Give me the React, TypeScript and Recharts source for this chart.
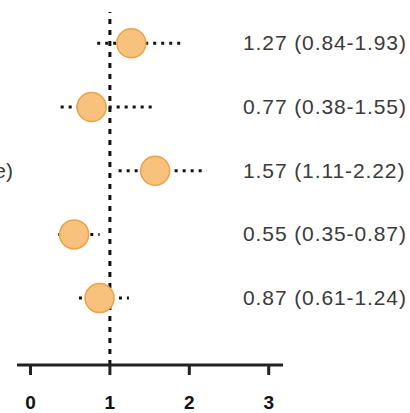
import { ScatterChart, Scatter, XAxis, YAxis, ReferenceLine } from 'recharts';

const rows = [1, 2, 3, 4, 5];
const estimates = [1.27, 0.77, 1.57, 0.55, 0.87];
const lower = [0.84, 0.38, 1.11, 0.35, 0.61];
const upper = [1.93, 1.55, 2.22, 0.87, 1.24];
const rowNames = ['', '', 'e)', '', ''];
const xTicks = [0, 1, 2, 3];

const FONT = '"Liberation Sans", Arial, Helvetica, sans-serif';

const points = rows.map((row, i) => ({
  row,
  est: estimates[i],
  lo: lower[i],
  hi: upper[i],
  text: `${estimates[i].toFixed(2)} (${lower[i].toFixed(2)}-${upper[i].toFixed(2)})`,
}));

function Dot(props: any) {
  const { cx, cy } = props;
  return <circle cx={cx} cy={cy} r={14.5} fill="#F8C27C" stroke="#EBA24A" strokeWidth={1.5} />;
}

function RightTick(props: any) {
  const { y, payload } = props;
  const p = points.find((d) => d.row === payload.value);
  return (
    <text x={243} y={y} dy={7} textAnchor="start" fontSize={21} letterSpacing={0.9} fontFamily={FONT} fill="#3a3a3a">
      {p ? p.text : ''}
    </text>
  );
}

function LeftTick(props: any) {
  const { y, payload } = props;
  const idx = rows.indexOf(payload.value);
  return (
    <text x={13} y={y} dy={7} textAnchor="end" fontSize={21} fontFamily={FONT} fill="#3a3a3a">
      {idx >= 0 ? rowNames[idx] : ''}
    </text>
  );
}

export default function App() {
  return (
    <div style={{ position: 'absolute', left: 0, top: 0, background: '#fff' }}>
      <ScatterChart width={410} height={413} margin={{ top: 12, right: 0, bottom: 8, left: 0 }}>
        <XAxis
          type="number"
          dataKey="est"
          domain={[-0.17, 3.18]}
          ticks={xTicks}
          allowDataOverflow
          height={40}
          tickSize={10}
          tickMargin={21}
          axisLine={{ stroke: '#222', strokeWidth: 3 }}
          tickLine={{ stroke: '#222', strokeWidth: 3 }}
          tick={{ fill: '#111', fontSize: 19, fontWeight: 'bold', fontFamily: FONT }}
        />
        <YAxis
          yAxisId="l"
          type="number"
          dataKey="row"
          domain={[0.51, 6.05]}
          ticks={rows}
          reversed
          allowDataOverflow
          width={17}
          axisLine={false}
          tickLine={false}
          tick={<LeftTick />}
        />
        <YAxis
          yAxisId="r"
          orientation="right"
          type="number"
          dataKey="row"
          domain={[0.51, 6.05]}
          ticks={rows}
          reversed
          allowDataOverflow
          width={127}
          axisLine={false}
          tickLine={false}
          tick={<RightTick />}
        />
        <ReferenceLine yAxisId="l" x={1} stroke="#111" strokeWidth={3} strokeDasharray="5 6" />
        {points.map((p) => (
          <ReferenceLine
            key={p.row}
            yAxisId="l"
            segment={[{ x: p.lo, y: p.row }, { x: p.hi, y: p.row }]}
            stroke="#111"
            strokeWidth={3}
            strokeDasharray="3 5"
          />
        ))}
        <Scatter yAxisId="l" data={points} shape={<Dot />} isAnimationActive={false} />
      </ScatterChart>
    </div>
  );
}
